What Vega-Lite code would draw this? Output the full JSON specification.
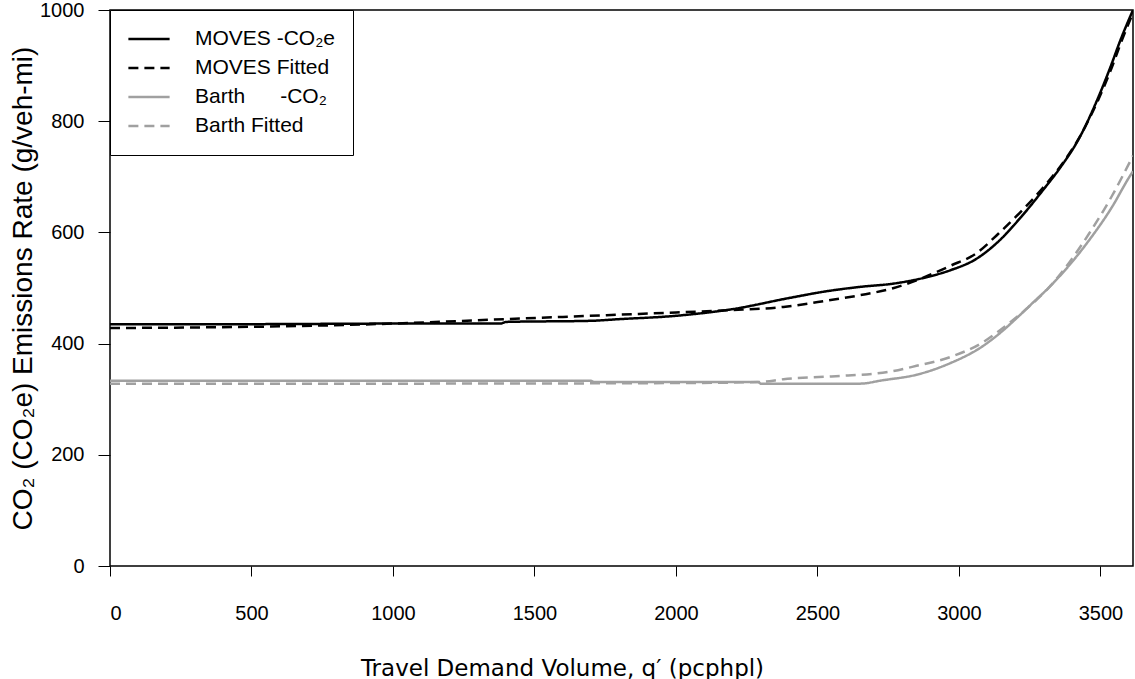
{
  "$schema": "https://vega.github.io/schema/vega-lite/v6.json",
  "autosize": {"type": "none"},
  "padding": {"left": 110, "top": 10, "right": 2, "bottom": 113},
  "width": 1023,
  "height": 556,
  "background": "white",
  "config": {
    "view": {"stroke": "black", "strokeWidth": 1.5},
    "axis": {
      "grid": false,
      "domain": false,
      "tickColor": "black",
      "tickWidth": 1,
      "labelColor": "black",
      "titleColor": "black",
      "labelFont": "Liberation Sans",
      "labelFontSize": 20,
      "format": "d"
    }
  },
  "data": {
    "values": [
      {"q": 0, "rate": 435, "series": "MOVES -CO₂e"},
      {"q": 500, "rate": 435, "series": "MOVES -CO₂e"},
      {"q": 1000, "rate": 436, "series": "MOVES -CO₂e"},
      {"q": 1380, "rate": 436, "series": "MOVES -CO₂e"},
      {"q": 1400, "rate": 439, "series": "MOVES -CO₂e"},
      {"q": 1700, "rate": 441, "series": "MOVES -CO₂e"},
      {"q": 1800, "rate": 444, "series": "MOVES -CO₂e"},
      {"q": 2000, "rate": 450, "series": "MOVES -CO₂e"},
      {"q": 2200, "rate": 462, "series": "MOVES -CO₂e"},
      {"q": 2400, "rate": 482, "series": "MOVES -CO₂e"},
      {"q": 2530, "rate": 494, "series": "MOVES -CO₂e"},
      {"q": 2650, "rate": 502, "series": "MOVES -CO₂e"},
      {"q": 2770, "rate": 508, "series": "MOVES -CO₂e"},
      {"q": 2890, "rate": 520, "series": "MOVES -CO₂e"},
      {"q": 2970, "rate": 532, "series": "MOVES -CO₂e"},
      {"q": 3060, "rate": 552, "series": "MOVES -CO₂e"},
      {"q": 3140, "rate": 584, "series": "MOVES -CO₂e"},
      {"q": 3220, "rate": 628, "series": "MOVES -CO₂e"},
      {"q": 3300, "rate": 678, "series": "MOVES -CO₂e"},
      {"q": 3360, "rate": 718, "series": "MOVES -CO₂e"},
      {"q": 3420, "rate": 765, "series": "MOVES -CO₂e"},
      {"q": 3490, "rate": 840, "series": "MOVES -CO₂e"},
      {"q": 3535, "rate": 897, "series": "MOVES -CO₂e"},
      {"q": 3570, "rate": 945, "series": "MOVES -CO₂e"},
      {"q": 3615, "rate": 1000, "series": "MOVES -CO₂e"},

      {"q": 0, "rate": 428, "series": "MOVES Fitted"},
      {"q": 300, "rate": 429, "series": "MOVES Fitted"},
      {"q": 600, "rate": 431, "series": "MOVES Fitted"},
      {"q": 1000, "rate": 436, "series": "MOVES Fitted"},
      {"q": 1300, "rate": 442, "series": "MOVES Fitted"},
      {"q": 1600, "rate": 448, "series": "MOVES Fitted"},
      {"q": 1800, "rate": 452, "series": "MOVES Fitted"},
      {"q": 2000, "rate": 456, "series": "MOVES Fitted"},
      {"q": 2180, "rate": 460, "series": "MOVES Fitted"},
      {"q": 2380, "rate": 466, "series": "MOVES Fitted"},
      {"q": 2530, "rate": 477, "series": "MOVES Fitted"},
      {"q": 2650, "rate": 487, "series": "MOVES Fitted"},
      {"q": 2770, "rate": 500, "series": "MOVES Fitted"},
      {"q": 2890, "rate": 522, "series": "MOVES Fitted"},
      {"q": 2970, "rate": 540, "series": "MOVES Fitted"},
      {"q": 3060, "rate": 562, "series": "MOVES Fitted"},
      {"q": 3140, "rate": 598, "series": "MOVES Fitted"},
      {"q": 3220, "rate": 638, "series": "MOVES Fitted"},
      {"q": 3300, "rate": 682, "series": "MOVES Fitted"},
      {"q": 3360, "rate": 720, "series": "MOVES Fitted"},
      {"q": 3420, "rate": 766, "series": "MOVES Fitted"},
      {"q": 3490, "rate": 836, "series": "MOVES Fitted"},
      {"q": 3535, "rate": 890, "series": "MOVES Fitted"},
      {"q": 3570, "rate": 938, "series": "MOVES Fitted"},
      {"q": 3615, "rate": 995, "series": "MOVES Fitted"},

      {"q": 0, "rate": 333, "series": "Barth\u00a0\u00a0\u00a0\u00a0\u00a0\u00a0-CO₂"},
      {"q": 1700, "rate": 333, "series": "Barth\u00a0\u00a0\u00a0\u00a0\u00a0\u00a0-CO₂"},
      {"q": 1710, "rate": 331, "series": "Barth\u00a0\u00a0\u00a0\u00a0\u00a0\u00a0-CO₂"},
      {"q": 2290, "rate": 331, "series": "Barth\u00a0\u00a0\u00a0\u00a0\u00a0\u00a0-CO₂"},
      {"q": 2300, "rate": 328, "series": "Barth\u00a0\u00a0\u00a0\u00a0\u00a0\u00a0-CO₂"},
      {"q": 2650, "rate": 328, "series": "Barth\u00a0\u00a0\u00a0\u00a0\u00a0\u00a0-CO₂"},
      {"q": 2730, "rate": 334, "series": "Barth\u00a0\u00a0\u00a0\u00a0\u00a0\u00a0-CO₂"},
      {"q": 2850, "rate": 344, "series": "Barth\u00a0\u00a0\u00a0\u00a0\u00a0\u00a0-CO₂"},
      {"q": 2970, "rate": 365, "series": "Barth\u00a0\u00a0\u00a0\u00a0\u00a0\u00a0-CO₂"},
      {"q": 3080, "rate": 394, "series": "Barth\u00a0\u00a0\u00a0\u00a0\u00a0\u00a0-CO₂"},
      {"q": 3145, "rate": 419, "series": "Barth\u00a0\u00a0\u00a0\u00a0\u00a0\u00a0-CO₂"},
      {"q": 3200, "rate": 444, "series": "Barth\u00a0\u00a0\u00a0\u00a0\u00a0\u00a0-CO₂"},
      {"q": 3260, "rate": 473, "series": "Barth\u00a0\u00a0\u00a0\u00a0\u00a0\u00a0-CO₂"},
      {"q": 3320, "rate": 502, "series": "Barth\u00a0\u00a0\u00a0\u00a0\u00a0\u00a0-CO₂"},
      {"q": 3390, "rate": 541, "series": "Barth\u00a0\u00a0\u00a0\u00a0\u00a0\u00a0-CO₂"},
      {"q": 3460, "rate": 586, "series": "Barth\u00a0\u00a0\u00a0\u00a0\u00a0\u00a0-CO₂"},
      {"q": 3540, "rate": 645, "series": "Barth\u00a0\u00a0\u00a0\u00a0\u00a0\u00a0-CO₂"},
      {"q": 3600, "rate": 698, "series": "Barth\u00a0\u00a0\u00a0\u00a0\u00a0\u00a0-CO₂"},
      {"q": 3615, "rate": 710, "series": "Barth\u00a0\u00a0\u00a0\u00a0\u00a0\u00a0-CO₂"},

      {"q": 0, "rate": 328, "series": "Barth Fitted"},
      {"q": 1000, "rate": 328, "series": "Barth Fitted"},
      {"q": 2000, "rate": 329, "series": "Barth Fitted"},
      {"q": 2300, "rate": 331, "series": "Barth Fitted"},
      {"q": 2380, "rate": 336, "series": "Barth Fitted"},
      {"q": 2550, "rate": 341, "series": "Barth Fitted"},
      {"q": 2750, "rate": 349, "series": "Barth Fitted"},
      {"q": 2850, "rate": 360, "series": "Barth Fitted"},
      {"q": 2970, "rate": 376, "series": "Barth Fitted"},
      {"q": 3080, "rate": 401, "series": "Barth Fitted"},
      {"q": 3145, "rate": 424, "series": "Barth Fitted"},
      {"q": 3200, "rate": 446, "series": "Barth Fitted"},
      {"q": 3260, "rate": 472, "series": "Barth Fitted"},
      {"q": 3320, "rate": 502, "series": "Barth Fitted"},
      {"q": 3390, "rate": 546, "series": "Barth Fitted"},
      {"q": 3460, "rate": 598, "series": "Barth Fitted"},
      {"q": 3540, "rate": 665, "series": "Barth Fitted"},
      {"q": 3615, "rate": 738, "series": "Barth Fitted"}
    ]
  },
  "mark": {"type": "line", "strokeWidth": 2.5, "interpolate": "monotone", "clip": true},
  "encoding": {
    "x": {
      "field": "q",
      "type": "quantitative",
      "scale": {"domain": [0, 3615], "nice": false, "zero": false},
      "axis": {
        "values": [0, 500, 1000, 1500, 2000, 2500, 3000, 3500],
        "tickSize": 10,
        "labelPadding": 27,
        "title": "Travel Demand Volume, q′ (pcphpl)",
        "titleFont": "DejaVu Sans",
        "titleFontSize": 23,
        "titleFontWeight": "normal",
        "titleX": 452,
        "titleY": 109,
        "titleAlign": "center",
        "titleBaseline": "alphabetic"
      }
    },
    "y": {
      "field": "rate",
      "type": "quantitative",
      "scale": {"domain": [0, 1000], "nice": false},
      "axis": {
        "values": [0, 200, 400, 600, 800, 1000],
        "tickSize": 12,
        "labelPadding": 14,
        "title": "CO₂ (CO₂e) Emissions Rate (g/veh-mi)",
        "titleFont": "Liberation Sans",
        "titleFontSize": 28,
        "titleFontWeight": "normal",
        "titlePadding": 2
      }
    },
    "color": {
      "field": "series",
      "type": "nominal",
      "scale": {
        "domain": ["MOVES -CO₂e", "MOVES Fitted", "Barth\u00a0\u00a0\u00a0\u00a0\u00a0\u00a0-CO₂", "Barth Fitted"],
        "range": ["#000000", "#000000", "#a0a0a0", "#a0a0a0"]
      },
      "legend": {
        "title": null,
        "orient": "none",
        "legendX": 0,
        "legendY": 0,
        "padding": 17,
        "strokeColor": "black",
        "fillColor": "white",
        "symbolType": "stroke",
        "symbolSize": 1700,
        "symbolStrokeWidth": 2.5,
        "labelFont": "Liberation Sans",
        "labelFontSize": 21,
        "labelColor": "black",
        "labelOffset": 24,
        "clipHeight": 24,
        "rowPadding": 5
      }
    },
    "strokeDash": {
      "field": "series",
      "type": "nominal",
      "scale": {
        "domain": ["MOVES -CO₂e", "MOVES Fitted", "Barth\u00a0\u00a0\u00a0\u00a0\u00a0\u00a0-CO₂", "Barth Fitted"],
        "range": [[1, 0], [10, 6], [1, 0], [10, 6]]
      },
      "legend": {
        "title": null,
        "orient": "none",
        "legendX": 0,
        "legendY": 0,
        "padding": 17,
        "strokeColor": "black",
        "fillColor": "white",
        "symbolType": "stroke",
        "symbolSize": 1700,
        "symbolStrokeWidth": 2.5,
        "labelFont": "Liberation Sans",
        "labelFontSize": 21,
        "labelColor": "black",
        "labelOffset": 24,
        "clipHeight": 24,
        "rowPadding": 5
      }
    }
  }
}
